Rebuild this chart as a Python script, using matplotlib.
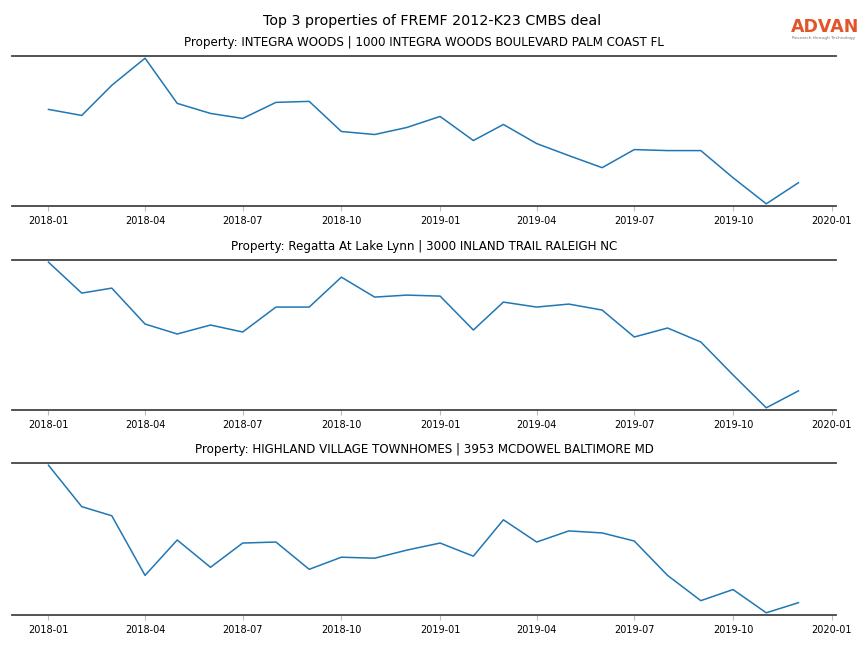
import matplotlib
matplotlib.use("Agg")
import matplotlib.pyplot as plt
import pandas as pd
import numpy as np

dates = pd.date_range("2018-01-01", "2019-12-01", freq="MS")

titles = [
    "Property: INTEGRA WOODS | 1000 INTEGRA WOODS BOULEVARD PALM COAST FL",
    "Property: Regatta At Lake Lynn | 3000 INLAND TRAIL RALEIGH NC",
    "Property: HIGHLAND VILLAGE TOWNHOMES | 3953 MCDOWEL BALTIMORE MD",
]

integra_woods = [96, 90, 120, 147, 102, 92, 87, 103, 104, 74, 71, 78, 89, 65, 81, 62, 50, 38, 56, 55, 55, 28, 2, 23]
regatta = [147, 116, 121, 85, 75, 84, 77, 102, 102, 132, 112, 114, 113, 79, 107, 102, 105, 99, 72, 81, 67, 34, 1, 18]
highland = [148, 107, 98, 39, 74, 47, 71, 72, 45, 57, 56, 64, 71, 58, 94, 72, 83, 81, 73, 39, 14, 25, 2, 12]

series = [integra_woods, regatta, highland]

fig = plt.figure(figsize=(8.64, 6.48), dpi=100)
fig.suptitle("Top 3 properties of FREMF 2012-K23 CMBS deal", fontsize=10.3, y=0.979)

tops = [56, 260, 463]
bots = [206, 410, 615]
left = 12 / 864
right = 836 / 864
xmin = pd.Timestamp("2017-11-28")
xmax = pd.Timestamp("2020-01-05")
ticks = pd.date_range("2018-01-01", "2020-01-01", freq="3MS")

for s, t, tp, bt in zip(series, titles, tops, bots):
    ax = fig.add_axes([left, 1 - bt / 648, right - left, (bt - tp) / 648])
    ax.plot(dates, s, color="#1f77b4", lw=1.1)
    ax.set_title(t, fontsize=8.6, pad=7)
    ax.set_xlim(xmin, xmax)
    ax.margins(y=0.015)
    ax.set_xticks(ticks)
    ax.set_xticklabels([d.strftime("%Y-%m") for d in ticks], fontsize=7)
    ax.tick_params(axis="x", colors="#bbbbbb", labelcolor="black", length=3.5, width=0.8)
    ax.set_yticks([])
    for side in ["left", "right"]:
        ax.spines[side].set_visible(False)
    for side in ["top", "bottom"]:
        ax.spines[side].set_color("#444444")
        ax.spines[side].set_linewidth(1.3)

fig.text(825 / 864, 1 - 27 / 648, "ADVAN", color="#e2552a", fontsize=12.5,
         ha="center", va="center", fontweight="semibold")
fig.text(824 / 864, 1 - 38.5 / 648, "Research through Technology", color="#777777",
         fontsize=3.1, ha="center", va="center")

fig.savefig("out.png", dpi=100)
